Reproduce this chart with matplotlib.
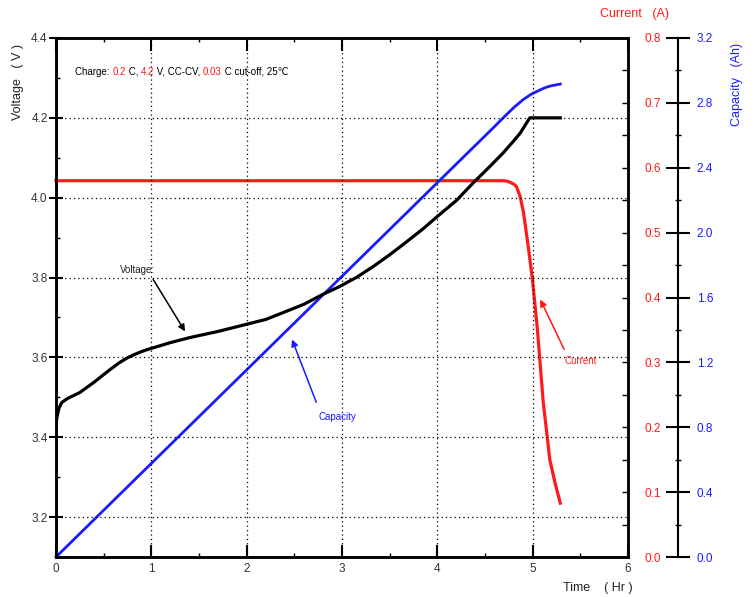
import matplotlib
matplotlib.use("Agg")
import matplotlib.pyplot as plt
from matplotlib.ticker import MultipleLocator

plt.rcParams['font.family'] = ['Liberation Sans', 'DejaVu Sans']

# voltage curve (V) vs time (Hr)
time_v = [0.0, 0.01, 0.03, 0.06, 0.12, 0.25, 0.4, 0.57, 0.66, 0.75, 0.82, 0.88, 0.95, 1.02,
          1.2, 1.41, 1.7, 2.0, 2.2, 2.38, 2.6, 2.8, 2.98, 3.085, 3.15, 3.33, 3.5, 3.68,
          3.85, 4.0, 4.2, 4.38, 4.55, 4.69, 4.8, 4.87, 4.93, 4.97, 5.1, 5.29]
voltage = [3.43, 3.45, 3.472, 3.487, 3.497, 3.512, 3.538, 3.57, 3.586, 3.599, 3.607, 3.613,
           3.619, 3.624, 3.637, 3.65, 3.665, 3.683, 3.695, 3.712, 3.733, 3.758, 3.778, 3.792,
           3.80, 3.828, 3.857, 3.89, 3.922, 3.953, 3.993, 4.038, 4.078, 4.112, 4.142, 4.162,
           4.185, 4.2, 4.2, 4.2]

# current curve (A)
time_i = [0.0, 4.7, 4.74, 4.77, 4.8, 4.83, 4.87, 4.905, 4.94, 4.97, 5.0, 5.05, 5.11,
          5.18, 5.235, 5.29]
current = [0.58, 0.58, 0.579, 0.577, 0.575, 0.571, 0.555, 0.53, 0.493, 0.46, 0.425, 0.35, 0.24,
           0.15, 0.114, 0.083]

# capacity curve (Ah)
time_c = [0.0, 1.0, 2.0, 3.0, 4.0, 4.6, 4.66, 4.73, 4.8, 4.9, 4.97, 5.0, 5.1, 5.15, 5.2, 5.29]
capacity = [0.0, 0.577, 1.154, 1.731, 2.308, 2.654, 2.69, 2.73, 2.77, 2.82, 2.848, 2.858,
            2.886, 2.898, 2.906, 2.916]

RED = '#ff1a1a'
BLUE = '#1a1aff'

fig = plt.figure(figsize=(7.54, 5.97), dpi=100)
ax = fig.add_axes([56 / 754, 1 - 557 / 597, 572 / 754, 519 / 597])

ax.set_xlim(0, 6)
ax.set_ylim(3.1, 4.4)
ax.xaxis.set_major_locator(MultipleLocator(1))
ax.xaxis.set_minor_locator(MultipleLocator(0.5))
ax.yaxis.set_major_locator(MultipleLocator(0.2))
ax.yaxis.set_minor_locator(MultipleLocator(0.1))
ax.grid(True, which='major', linestyle=(0, (1, 2.5)), color='black', linewidth=0.9)
for s in ax.spines.values():
    s.set_linewidth(1.8)
ax.tick_params(axis='y', which='major', direction='inout', length=10, width=1.5,
               labelsize=8.5, labelcolor='#333333', pad=1)
ax.tick_params(axis='y', which='minor', direction='in', length=3, width=1)
ax.tick_params(axis='x', which='major', direction='in', length=9, width=1.5,
               labelsize=8.5, labelcolor='#333333', top=True, pad=4)
ax.tick_params(axis='x', which='minor', direction='in', length=3, width=1, top=True)
ax.set_yticks([3.2, 3.4, 3.6, 3.8, 4.0, 4.2, 4.4])
ax.set_yticklabels(['3.2', '3.4', '3.6', '3.8', '4.0', '4.2', '4.4'])

# current axis on right spine
ax2 = ax.twinx()
ax2.set_ylim(0, 0.8)
ax2.yaxis.set_major_locator(MultipleLocator(0.1))
ax2.yaxis.set_minor_locator(MultipleLocator(0.05))
ax2.tick_params(axis='y', which='major', direction='in', length=4, width=1,
                labelsize=8.5, labelcolor=RED, pad=12)
ax2.tick_params(axis='y', which='minor', direction='in', length=4, width=1)
ax2.set_yticks([0.0, 0.1, 0.2, 0.3, 0.4, 0.5, 0.6, 0.7, 0.8])
ax2.set_yticklabels(['0.0', '0.1', '0.2', '0.3', '0.4', '0.5', '0.6', '0.7', '0.8'])
for s in ax2.spines.values():
    s.set_linewidth(1.8)

# capacity axis, offset spine
ax3 = ax.twinx()
ax3.spines['right'].set_position(('axes', 1.0874))
ax3.spines['right'].set_linewidth(1.5)
ax3.set_ylim(0, 3.2)
ax3.yaxis.set_major_locator(MultipleLocator(0.4))
ax3.yaxis.set_minor_locator(MultipleLocator(0.2))
ax3.tick_params(axis='y', which='major', direction='inout', length=17, width=1.5,
                labelsize=8.5, labelcolor=BLUE, pad=5)
ax3.tick_params(axis='y', which='minor', direction='inout', length=4, width=1)
ax3.set_yticks([0.0, 0.4, 0.8, 1.2, 1.6, 2.0, 2.4, 2.8, 3.2])
ax3.set_yticklabels(['0.0', '0.4', '0.8', '1.2', '1.6', '2.0', '2.4', '2.8', '3.2'])

ax3.plot(time_c, capacity, color=BLUE, linewidth=2, clip_on=False)
ax2.plot(time_i, current, color=RED, linewidth=2.3, clip_on=False)
ax.plot(time_v, voltage, color='black', linewidth=2.3, zorder=5)
ax.set_zorder(ax3.get_zorder() + 1)
ax.patch.set_visible(False)

# axis titles
fig.text(18 / 754, 1 - 82 / 597, 'Voltage   ( V )', rotation=90, ha='center', va='center',
         fontsize=9, color='#222222')
fig.text(634 / 754, 1 - 14 / 597, 'Current   (A)', ha='center', va='center',
         fontsize=9, color=RED)
fig.text(737 / 754, 1 - 84 / 597, 'Capacity   (Ah)', rotation=90, ha='center', va='center',
         fontsize=9, color=BLUE)
fig.text(598 / 754, 1 - 588 / 597, 'Time    ( Hr )', ha='center', va='center',
         fontsize=9, color='#222222')

# condition note with coloured numbers
parts = [('Charge: ', 'black'), ('0.2', RED), (' C, ', 'black'), ('4.2', RED),
         (' V, CC-CV, ', 'black'), ('0.03', RED), (' C cut-off, 25\u2103', 'black')]
prev = ax.text(0.2, 4.315, parts[0][0], color=parts[0][1], fontsize=7, va='center')
for txt, col in parts[1:]:
    prev = ax.annotate(txt, xy=(1, 0), xycoords=prev, va='bottom', ha='left',
                       color=col, fontsize=7)

arrow_kw = dict(arrowstyle='-|>', linewidth=1.1, mutation_scale=10, shrinkA=0, shrinkB=0)
ax.text(1.04, 3.82, 'Voltage:', fontsize=7, ha='right', va='center', color='#222222')
ax.annotate('', xy=(1.354, 3.665), xytext=(1.02, 3.795),
            arrowprops=dict(color='black', **arrow_kw))
ax.text(2.75, 3.45, 'Capacity', fontsize=7, ha='left', va='center', color=BLUE)
ax.annotate('', xy=(2.476, 3.645), xytext=(2.73, 3.4875),
            arrowprops=dict(color=BLUE, **arrow_kw))
ax.text(5.33, 3.59, 'Current', fontsize=7, ha='left', va='center', color=RED)
ax.annotate('', xy=(5.08, 3.745), xytext=(5.33, 3.62),
            arrowprops=dict(color=RED, **arrow_kw))

fig.savefig('out.png', dpi=100)
